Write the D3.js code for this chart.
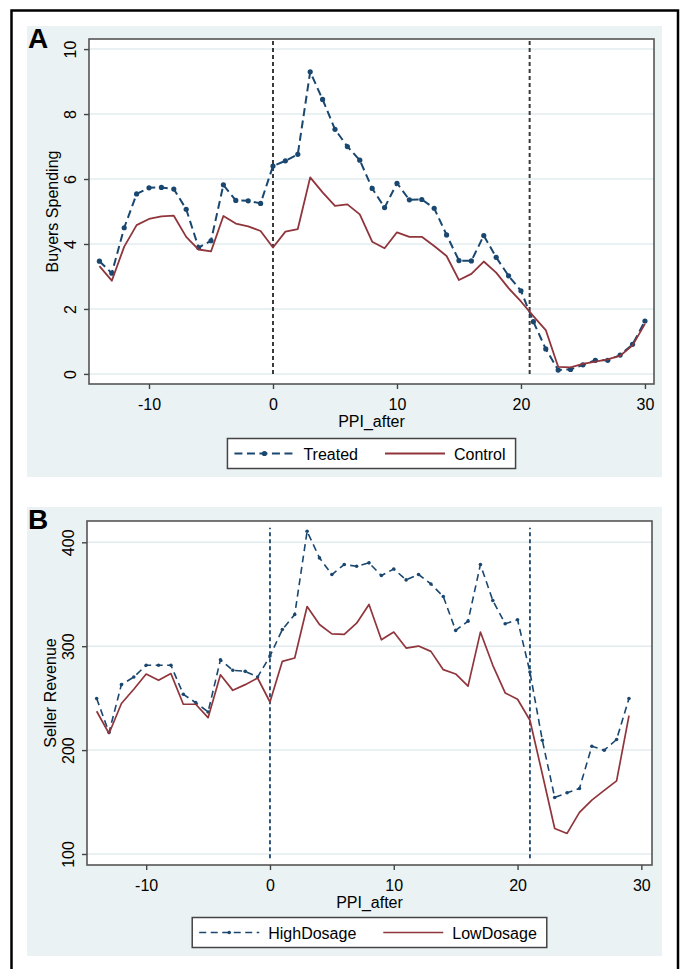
<!DOCTYPE html>
<html lang="en">
<head>
<meta charset="utf-8">
<title>Buyers Spending and Seller Revenue</title>
<script src="https://d3js.org/d3.v7.min.js"></script>
<style>
  body { margin: 0; background: #fff; }
  svg { display: block; font-family: "Liberation Sans", Arial, sans-serif; }
  .tick text { font-size: 16px; fill: #000; }
</style>
</head>
<body>
<svg width="681" height="969"></svg>
<script>
// panel A data
const periodsA = [-14, -13, -12, -11, -10, -9, -8, -7, -6, -5, -4, -3, -2, -1,
  0, 1, 2, 3, 4, 5, 6, 7, 8, 9, 10, 11, 12, 13, 14, 15, 16, 17, 18, 19, 20,
  21, 22, 23, 24, 25, 26, 27, 28, 29, 30];
const treated = [3.47, 3.10, 4.50, 5.54, 5.73, 5.74, 5.69, 5.07, 3.89, 4.10, 5.82, 5.34, 5.33, 5.25,
  6.40, 6.56, 6.76, 9.30, 8.45, 7.53, 7.00, 6.58, 5.71, 5.12, 5.87, 5.36, 5.37, 5.10, 4.28, 3.49, 3.48,
  4.26, 3.59, 3.02, 2.56, 1.61, 0.77, 0.12, 0.14, 0.28, 0.42, 0.42, 0.58, 0.91, 1.63];
const control = [3.32, 2.87, 3.92, 4.58, 4.77, 4.85, 4.87, 4.22, 3.83, 3.77, 4.86, 4.63, 4.54, 4.40,
  3.89, 4.38, 4.46, 6.05, 5.59, 5.17, 5.22, 4.91, 4.07, 3.87, 4.36, 4.22, 4.22, 3.94, 3.63, 2.89, 3.08,
  3.46, 3.12, 2.64, 2.23, 1.78, 1.35, 0.22, 0.20, 0.31, 0.38, 0.45, 0.56, 0.88, 1.54];

// panel B data
const periodsB = [-14, -13, -12, -11, -10, -9, -8, -7, -6, -5, -4, -3, -2, -1,
  0, 1, 2, 3, 4, 5, 6, 7, 8, 9, 10, 11, 12, 13, 14, 15, 16, 17, 18, 19, 20,
  21, 22, 23, 24, 25, 26, 27, 28, 29];
const highDosage = [249.6, 217, 263, 270.3, 281.6, 281.6, 281.6, 253.7, 245.7, 236.7, 287, 276.8, 275.8, 270.3,
  290.5, 316.1, 330.5, 410.6, 385, 369, 378.6, 376.9, 380.2, 368, 374.3, 363.8, 369, 359.9, 347.8, 315.2,
  324.1, 378.6, 344, 321.6, 325.4, 275.2, 209.5, 154.4, 158.9, 163.1, 203.7, 199.9, 210.2, 249.6];
const lowDosage = [237.4, 216, 244.8, 258.5, 273.2, 267.2, 273.6, 244.1, 244.1, 231.2, 272.5, 257.5, 263, 269.4,
  246.3, 285.4, 288.6, 338.2, 320.9, 311.9, 311.3, 322.1, 340.2, 306.2, 313.6, 298.2, 300.1, 295, 277.4, 273.3,
  261.6, 313.6, 281.6, 255, 248.9, 228.7, 177, 124.5, 119.8, 140, 151.9, 161.2, 170.3, 233.2];

const xTicks = [-10, 0, 10, 20, 30];
const yTicksA = [0, 2, 4, 6, 8, 10];
const yTicksB = [100, 200, 300, 400];
const eventLinesA = [0, 20.7];
const eventLinesB = [0, 21];

const navy = "#1A476F";
const maroon = "#90353B";

const svg = d3.select("svg");

// outer frame + white background
svg.append("rect").attr("width", 681).attr("height", 969).attr("fill", "#fff");

function drawPanel(cfg) {
    const g = svg.append("g");
    const p = cfg.plot;

    g.append("rect")
     .attr("x", cfg.region.x).attr("y", cfg.region.y)
     .attr("width", cfg.region.w).attr("height", cfg.region.h)
     .attr("fill", "#EAF2F3");

    g.append("rect")
     .attr("x", p.left).attr("y", p.top)
     .attr("width", p.right - p.left).attr("height", p.bottom - p.top)
     .attr("fill", "#fff");

    const x = d3.scaleLinear().domain(cfg.xDomain).range([p.left, p.right]);
    const y = d3.scaleLinear().domain(cfg.yDomain).range([p.bottom, p.top]);

    // grid
    g.append("g").selectAll("line")
     .data(cfg.yTicks).join("line")
     .attr("x1", p.left).attr("x2", p.right)
     .attr("y1", d => y(d)).attr("y2", d => y(d))
     .attr("stroke", "#E2ECEF").attr("stroke-width", 1.5);

    // event lines
    g.append("g").selectAll("line")
     .data(cfg.events).join("line")
     .attr("x1", d => x(d)).attr("x2", d => x(d))
     .attr("y1", y(cfg.eventSpan[0])).attr("y2", y(cfg.eventSpan[1]))
     .attr("stroke", cfg.eventColor).attr("stroke-width", cfg.eventWidth)
     .attr("stroke-dasharray", "4,3");

    const line = d3.line().x(d => x(d[0])).y(d => y(d[1]));

    cfg.series.forEach(s => {
        const pts = cfg.periods.map((t, i) => [t, s.values[i]]);
        g.append("path").datum(pts)
         .attr("d", line)
         .attr("fill", "none")
         .attr("stroke", s.color)
         .attr("stroke-width", s.width)
         .attr("stroke-dasharray", s.dash || null)
         .attr("stroke-linejoin", "round");
        if (s.marker) {
            g.append("g").selectAll("circle")
             .data(pts).join("circle")
             .attr("cx", d => x(d[0])).attr("cy", d => y(d[1]))
             .attr("r", s.marker)
             .attr("fill", s.color);
        }
    });

    // plot frame
    g.append("rect")
     .attr("x", p.left).attr("y", p.top)
     .attr("width", p.right - p.left).attr("height", p.bottom - p.top)
     .attr("fill", "none").attr("stroke", "#555").attr("stroke-width", 1.6);

    // x axis
    const ax = g.append("g")
      .attr("transform", `translate(0,${p.bottom})`)
      .call(d3.axisBottom(x).tickValues(xTicks).tickSize(5).tickPadding(10).tickFormat(d => String(d)));
    ax.select(".domain").remove();
    ax.selectAll(".tick line").attr("stroke", "#444").attr("stroke-width", 1.4);

    // y axis
    const ay = g.append("g")
      .attr("transform", `translate(${p.left},0)`)
      .call(d3.axisLeft(y).tickValues(cfg.yTicks).tickSize(5).tickFormat(d => String(d)));
    ay.select(".domain").remove();
    ay.selectAll(".tick line").attr("stroke", "#444").attr("stroke-width", 1.4);
    ay.selectAll(".tick text")
      .attr("x", 0).attr("y", -13).attr("dy", null)
      .attr("transform", "rotate(-90)")
      .attr("text-anchor", "middle");

    // titles
    g.append("text")
     .attr("x", (p.left + p.right) / 2).attr("y", p.bottom + 42.5)
     .attr("text-anchor", "middle").attr("font-size", 16)
     .text("PPI_after");

    g.append("text")
     .attr("transform", `translate(${p.left - 31},${(p.top + p.bottom) / 2}) rotate(-90)`)
     .attr("text-anchor", "middle").attr("font-size", 16)
     .text(cfg.yTitle);

    g.append("text")
     .attr("x", cfg.region.x + 1).attr("y", cfg.region.y + 22)
     .attr("font-size", 28).attr("font-weight", "bold")
     .text(cfg.letter);

    // legend
    const lg = g.append("g");
    const box = lg.append("rect")
      .attr("fill", "#fff").attr("stroke", "#444").attr("stroke-width", 1.5);
    const pad = 7, sample = 60, cy = cfg.legendTop + 15;
    let cx = pad;
    const items = lg.append("g");
    cfg.series.forEach((s, i) => {
        if (i > 0) cx += 27;
        items.append("line")
          .attr("x1", cx).attr("x2", cx + sample)
          .attr("y1", cy).attr("y2", cy)
          .attr("stroke", s.color).attr("stroke-width", s.width)
          .attr("stroke-dasharray", s.dash || null);
        if (s.marker) {
            items.append("circle")
              .attr("cx", cx + sample / 2).attr("cy", cy).attr("r", s.marker)
              .attr("fill", s.color);
        }
        cx += sample + 9;
        const t = items.append("text")
          .attr("x", cx).attr("y", cy + 6)
          .attr("font-size", 16)
          .text(s.name);
        cx += t.node().getComputedTextLength();
    });
    const bw = cx + 10;
    const bx = (p.left + p.right) / 2 - bw / 2;
    box.attr("x", bx).attr("y", cfg.legendTop).attr("width", bw).attr("height", 30);
    items.attr("transform", `translate(${bx},0)`);
}

drawPanel({
    letter: "A",
    region: {x: 27, y: 26, w: 635, h: 451},
    plot: {left: 89, top: 39, right: 654, bottom: 384},
    xDomain: [-14.84, 30.73],
    yDomain: [-0.31, 10.31],
    yTicks: yTicksA,
    yTitle: "Buyers Spending",
    periods: periodsA,
    events: eventLinesA,
    eventSpan: [0, 10.25],
    eventColor: "#3a3a3a",
    eventWidth: 2,
    legendTop: 438.5,
    series: [
        {name: "Treated", values: treated, color: navy, width: 2, dash: "8,4.5", marker: 2.6},
        {name: "Control", values: control, color: maroon, width: 1.8}
    ]
});

drawPanel({
    letter: "B",
    region: {x: 27, y: 507, w: 635, h: 449},
    plot: {left: 87, top: 521, right: 652, bottom: 865},
    xDomain: [-14.78, 30.86],
    yDomain: [89.4, 420.5],
    yTicks: yTicksB,
    yTitle: "Seller Revenue",
    periods: periodsB,
    events: eventLinesB,
    eventSpan: [96, 414],
    eventColor: navy,
    eventWidth: 1.8,
    legendTop: 917.5,
    series: [
        {name: "HighDosage", values: highDosage, color: navy, width: 1.6, dash: "7,4.5", marker: 1.8},
        {name: "LowDosage", values: lowDosage, color: maroon, width: 1.7}
    ]
});

svg.append("rect")
   .attr("x", 11.5).attr("y", 10.5)
   .attr("width", 666.5).attr("height", 990)
   .attr("fill", "none").attr("stroke", "#000").attr("stroke-width", 2.5);
</script>
</body>
</html>
